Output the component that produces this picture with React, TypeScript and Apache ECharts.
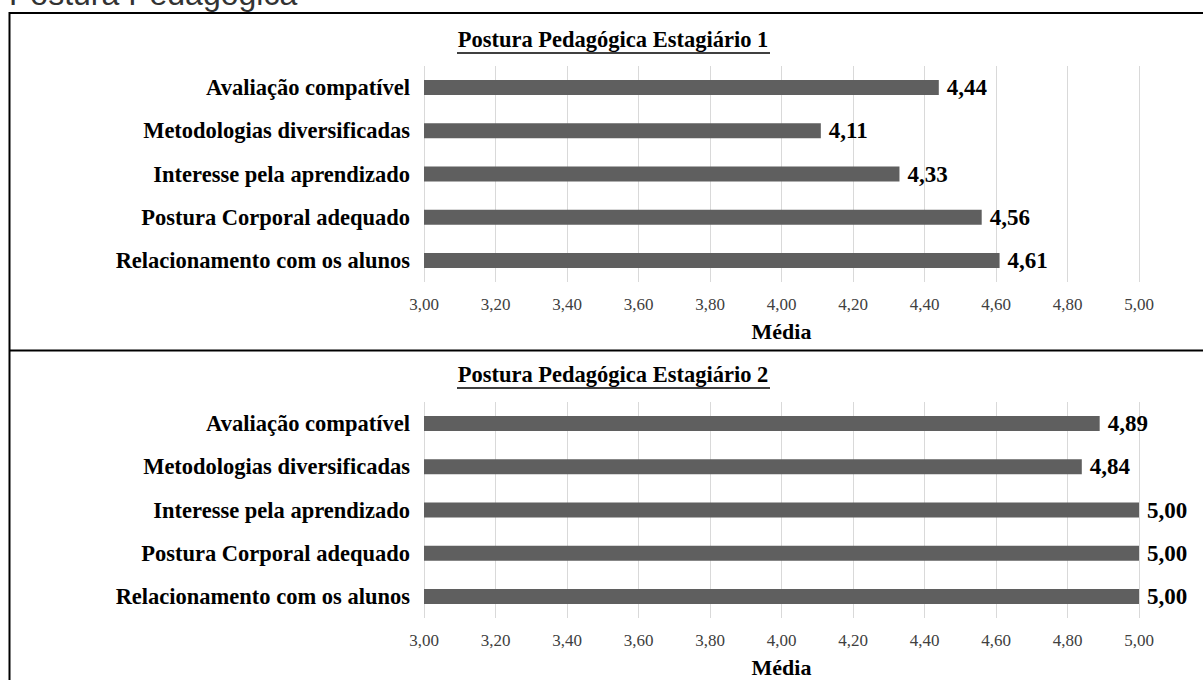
import React, { useEffect, useRef } from "react";
import * as echarts from "echarts";

const categories = [
  "Avaliação compatível",
  "Metodologias diversificadas",
  "Interesse pela aprendizado",
  "Postura Corporal adequado",
  "Relacionamento com os alunos",
];
const valuesEstagiario1 = [4.44, 4.11, 4.33, 4.56, 4.61];
const valuesEstagiario2 = [4.89, 4.84, 5.0, 5.0, 5.0];
const title1 = "Postura Pedagógica Estagiário 1";
const title2 = "Postura Pedagógica Estagiário 2";
const axisName = "Média";
const headerText = "Postura Pedagógica";

const SERIF = '"Liberation Serif", "Times New Roman", serif';
const fmt = (v: number) => v.toFixed(2).replace(".", ",");

export default function App() {
  const ref = useRef<HTMLDivElement>(null);
  useEffect(() => {
    if (!ref.current) return;
    const chart = echarts.init(ref.current, undefined, { renderer: "svg" });
    const grids = [
      { left: 424, right: 64, top: 66, height: 216 },
      { left: 424, right: 64, top: 402, height: 216 },
    ];
    const xAxis = grids.map((_, i) => ({
      type: "value",
      gridIndex: i,
      min: 3,
      max: 5,
      interval: 0.2,
      name: axisName,
      nameLocation: "middle",
      nameGap: 38,
      nameTextStyle: { fontFamily: SERIF, fontSize: 22, fontWeight: "bold", color: "#000" },
      axisLine: { show: false },
      axisTick: { show: false },
      axisLabel: { formatter: (v: number) => fmt(v), fontFamily: SERIF, fontSize: 17, color: "#404040", margin: 14 },
      splitLine: { show: true, lineStyle: { color: "#d9d9d9", width: 1 } },
    }));
    const yAxis = grids.map((_, i) => ({
      type: "category",
      gridIndex: i,
      inverse: true,
      data: categories,
      axisLine: { show: false },
      axisTick: { show: false },
      axisLabel: { fontFamily: SERIF, fontSize: 22.5, fontWeight: "bold", color: "#000", margin: 14 },
    }));
    const mkSeries = (data: number[], i: number) => ({
      type: "bar",
      xAxisIndex: i,
      yAxisIndex: i,
      data,
      barWidth: 15,
      itemStyle: { color: "#5f5f5f" },
      label: {
        show: true,
        position: "right",
        distance: 8,
        formatter: (p: any) => fmt(p.value),
        fontFamily: SERIF,
        fontSize: 23,
        fontWeight: "bold",
        color: "#000",
      },
    });
    const titleEl = (text: string, y: number, uy: number) => [
      {
        type: "text",
        style: {
          text,
          x: 613,
          y,
          align: "center",
          verticalAlign: "middle",
          font: `bold 22.5px ${SERIF}`,
          fill: "#000",
        },
      },
      {
        type: "line",
        shape: { x1: 457, y1: uy, x2: 770, y2: uy },
        style: { stroke: "#000", lineWidth: 1.5 },
      },
    ];
    chart.setOption({
      animation: false,
      backgroundColor: "#fff",
      grid: grids,
      xAxis,
      yAxis,
      series: [mkSeries(valuesEstagiario1, 0), mkSeries(valuesEstagiario2, 1)],
      graphic: [
        {
          type: "text",
          style: {
            text: headerText,
            x: 9,
            y: -6,
            align: "left",
            verticalAlign: "middle",
            font: '32px "Liberation Sans", Arial, sans-serif',
            fill: "#333",
          },
        },
        { type: "line", shape: { x1: 9, y1: 13, x2: 1203, y2: 13 }, style: { stroke: "#000", lineWidth: 2 } },
        { type: "line", shape: { x1: 9.5, y1: 12, x2: 9.5, y2: 680 }, style: { stroke: "#000", lineWidth: 2 } },
        { type: "line", shape: { x1: 9, y1: 350.5, x2: 1203, y2: 350.5 }, style: { stroke: "#000", lineWidth: 2 } },
        ...titleEl(title1, 39, 53),
        ...titleEl(title2, 374, 388),
      ],
    });
    return () => chart.dispose();
  }, []);
  return (
    <div
      ref={ref}
      style={{ position: "absolute", left: 0, top: 0, width: 1203, height: 680, background: "#fff" }}
    />
  );
}
